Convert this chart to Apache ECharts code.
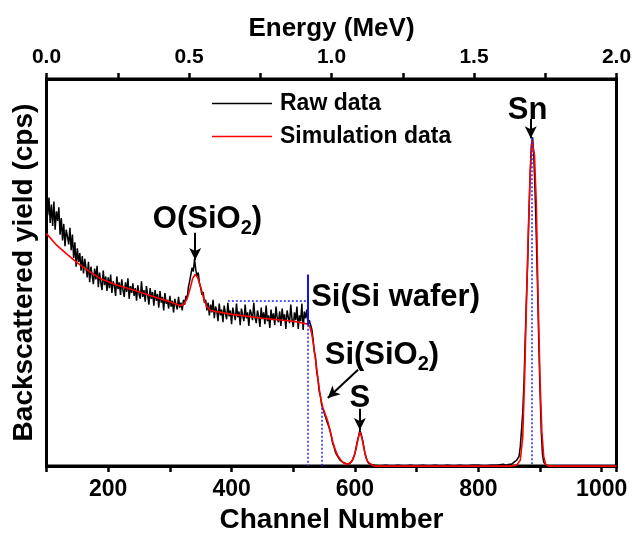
<!DOCTYPE html>
<html>
<head>
<meta charset="utf-8">
<script src="https://cdn.jsdelivr.net/npm/echarts@6/dist/echarts.min.js"></script>
<style>
  html, body { margin: 0; padding: 0; background: #fff; }
  #main { width: 635px; height: 539px; }
</style>
</head>
<body>
<div id="main"></div>
<script>
// raw spectrum, flat part: one value every 2 channels from channel 100
var rawStart = 100;
var rawStep = 2;
var rawFlat = [
  284, 258, 276, 250, 269, 247, 272, 243, 262, 252,
  266, 238, 255, 232, 249, 226, 243, 236, 228, 245,
  222, 238, 214, 230, 205, 224, 210, 219, 201, 216,
  198, 213, 204, 194, 210, 189, 205, 196, 187, 203,
  192, 206, 184, 199, 189, 181, 201, 186, 195, 180,
  194, 183, 197, 178, 190, 186, 175, 195, 182, 189,
  176, 192, 181, 174, 189, 179, 193, 172, 185, 178,
  188, 175, 183, 170, 186, 177, 172, 190, 174, 181,
  169, 185, 176, 166, 183, 172, 179, 165, 181, 170,
  177, 163, 180, 168, 174, 160, 178, 167, 171, 162,
  175, 164, 170, 158, 172, 166, 161, 174, 163, 168,
  160, 171, 166, 175, 172, 184, 190, 197, 204, 200,
  213, 202, 195, 199, 188, 183, 176, 179, 168, 171,
  160, 168, 155, 166, 158, 171, 152, 164, 160, 149,
  167, 155, 161, 148, 165, 157, 151, 168, 154, 160,
  146, 163, 156, 150, 167, 153, 159, 145, 162, 155,
  149, 166, 152, 158, 144, 161, 157, 150, 168, 153,
  147, 160, 154, 143, 163, 151, 158, 146, 165, 149,
  155, 142, 161, 150, 157, 145, 164, 152, 148, 159,
  144, 162, 150, 156, 141, 160, 153, 147, 166, 151,
  143, 158, 150, 164, 141, 155, 149, 167, 140, 159, 152, 161, 145, 150
];
// raw spectrum after the Si edge: [channel, yield]
var rawTail = [
  [528, 150], [530, 141], [532, 131], [534, 118], [536, 112], [538, 97], [540, 90],
  [542, 77], [544, 72], [546, 63], [548, 61], [550, 55], [552, 54], [554, 47],
  [556, 46], [558, 40], [560, 35], [562, 30], [564, 23], [566, 20], [568, 15],
  [570, 12], [573, 9], [576, 6], [580, 4], [584, 3], [588, 2], [592, 3], [596, 6],
  [600, 13], [603, 23], [606, 31], [608, 37], [610, 33], [613, 25], [616, 14],
  [619, 7], [622, 3], [626, 2], [632, 1], [640, 0], [650, 1], [660, 0], [670, 1],
  [680, 0], [690, 1], [700, 0], [710, 1], [720, 0], [730, 1], [740, 0], [750, 1],
  [760, 0], [770, 1], [780, 0], [790, 1], [800, 1], [810, 0], [820, 1], [830, 1],
  [840, 2], [846, 1], [850, 2], [854, 2], [858, 4], [862, 6], [866, 10], [868, 20],
  [870, 37], [872, 55], [874, 85], [876, 130], [878, 172], [880, 210], [882, 258],
  [884, 300], [886, 330], [888, 338], [890, 318], [892, 282], [894, 236], [896, 184],
  [898, 128], [900, 78], [902, 36], [904, 12], [906, 4], [910, 1], [916, 0],
  [940, 0], [980, 0], [1024, 0]
];
// simulated spectrum: [channel, yield]
var simData = [
  [100, 239], [115, 228], [133, 218], [150, 209], [170, 200], [187, 193], [210, 187],
  [241, 181], [270, 175], [295, 170], [316, 165], [322, 166], [328, 172], [333, 183],
  [337, 193], [341, 197], [345, 194], [350, 184], [355, 172], [360, 164], [366, 160],
  [400, 156], [450, 152], [500, 149], [524, 146], [527, 143], [530, 136], [533, 124],
  [536, 110], [539, 95], [542, 80], [545, 68], [548, 60], [552, 53], [556, 46],
  [560, 36], [564, 25], [568, 17], [572, 11], [576, 7], [582, 3], [588, 2], [594, 4],
  [598, 9], [602, 18], [605, 28], [608, 35], [611, 30], [614, 20], [617, 11],
  [620, 5], [625, 2], [632, 0], [850, 0], [862, 1], [868, 6], [872, 30], [875, 90],
  [878, 167], [881, 240], [884, 300], [887, 335], [889, 337], [891, 320], [894, 270],
  [897, 170], [900, 90], [903, 35], [906, 10], [909, 2], [914, 0], [1024, 0]
];
// guide lines [[x1, y1], [x2, y2]]
var solidGuides = [[[524, 197], [524, 145]]];
var dottedGuides = [
  [[394, 170], [524, 170]],
  [[524, 170], [524, 0]],
  [[546, 60], [546, 0]],
  [[887, 337], [887, 0]]
];
// arrows [[from], [to]]
var arrows = [
  [[341, 240], [341, 212]],
  [[605, 99], [556, 70]],
  [[608, 59], [608, 37]],
  [[885, 357], [885, 337]]
];
// labels: text, channel, yield, anchor
var notes = [
  ['{a|O(SiO}{s|2}{a|)}', 361, 254, 'center'],
  ['{a|Si(Si wafer)}', 529, 173, 'left'],
  ['{a|Si(SiO}{s|2}{a|)}', 551, 114, 'left'],
  ['{a|S}', 608, 70, 'center'],
  ['{a|Sn}', 880, 366, 'center']
];

var FONT = 'Arial, "Liberation Sans", sans-serif';

var rawData = [];
for (var i = 0; i < rawFlat.length; i++) {
  rawData.push([rawStart + i * rawStep, rawFlat[i]]);
}
rawData = rawData.concat(rawTail);

function segs(list, style) {
  return list.map(function (s) {
    return [{ coord: s[0], symbol: 'none' }, { coord: s[1], symbol: 'none', lineStyle: style }];
  });
}

var chart = echarts.init(document.getElementById('main'));
var option = {
  animation: false,
  grid: {
    left: 46.5, right: 18.5, top: 79, bottom: 62,
    show: true, borderColor: '#000', borderWidth: 3
  },
  legend: {
    data: ['Raw data', 'Simulation data'],
    orient: 'vertical',
    left: 207, top: 87,
    icon: 'rect', itemWidth: 60, itemHeight: 1.5, itemGap: 10,
    textStyle: { fontFamily: FONT, fontWeight: 'bold', fontSize: 23, color: '#000', padding: [0, 0, 0, 3] }
  },
  xAxis: [{
    type: 'value', min: 100, max: 1024, interval: 100,
    position: 'bottom',
    name: 'Channel Number', nameLocation: 'middle', nameGap: 32,
    nameTextStyle: { fontFamily: FONT, fontWeight: 'bold', fontSize: 28, color: '#000' },
    axisLine: { lineStyle: { color: '#000', width: 3 } },
    axisTick: { show: true, inside: false, length: 6, lineStyle: { color: '#000', width: 2.5 } },
    axisLabel: {
      margin: 12, fontFamily: FONT, fontWeight: 'bold', fontSize: 23, color: '#000',
      formatter: function (v) { return v % 200 === 0 ? String(v) : ''; }
    },
    splitLine: { show: false }
  }, {
    type: 'value', min: 0, max: 2, interval: 0.25,
    position: 'top',
    name: 'Energy (MeV)', nameLocation: 'middle', nameGap: 36,
    nameTextStyle: { fontFamily: FONT, fontWeight: 'bold', fontSize: 26, color: '#000' },
    axisLine: { lineStyle: { color: '#000', width: 3 } },
    axisTick: { show: true, inside: false, length: 6, lineStyle: { color: '#000', width: 2.5 } },
    axisLabel: {
      margin: 11, fontFamily: FONT, fontWeight: 'bold', fontSize: 21, color: '#000',
      formatter: function (v) { return Math.abs(v * 2 - Math.round(v * 2)) < 1e-6 ? v.toFixed(1) : ''; }
    },
    splitLine: { show: false }
  }],
  yAxis: {
    type: 'value', min: 0, max: 398,
    name: 'Backscattered yield (cps)', nameLocation: 'middle', nameGap: 8, nameRotate: 90,
    nameTextStyle: { fontFamily: FONT, fontWeight: 'bold', fontSize: 28, color: '#000' },
    axisLine: { show: true, lineStyle: { color: '#000', width: 3 } },
    axisTick: { show: false },
    axisLabel: { show: false },
    splitLine: { show: false }
  },
  series: [{
    name: 'Raw data', type: 'line', data: rawData,
    showSymbol: false, color: '#000',
    lineStyle: { color: '#000', width: 1.5 },
    markLine: {
      silent: true, animation: false, label: { show: false },
      symbol: ['none', 'arrow'], symbolSize: [9, 12],
      lineStyle: { color: '#000', width: 2, type: 'solid' },
      data: arrows.map(function (a) { return [{ coord: a[0] }, { coord: a[1] }]; })
    }
  }, {
    name: 'Simulation data', type: 'line', data: simData,
    showSymbol: false, color: '#ff0000',
    lineStyle: { color: '#ff0000', width: 1.6 },
    markLine: {
      silent: true, animation: false, label: { show: false },
      symbol: ['none', 'none'],
      lineStyle: { color: '#2222ff', width: 1.5, type: [2, 2] },
      data: segs(dottedGuides, { color: '#2222ff', width: 1.5, type: [2, 2] })
        .concat(segs(solidGuides, { color: '#1010ff', width: 2, type: 'solid' }))
    }
  }]
};
chart.setOption(option);

var textEls = notes.map(function (n) {
  var p = chart.convertToPixel({ xAxisIndex: 0, yAxisIndex: 0 }, [n[1], n[2]]);
  return {
    type: 'text', x: p[0], y: p[1], z: 100,
    style: {
      text: n[0], align: n[3], verticalAlign: 'middle',
      fontFamily: FONT, fontWeight: 'bold', fill: '#000',
      rich: {
        a: { fontSize: 31, fontFamily: FONT, fontWeight: 'bold', fill: '#000' },
        s: { fontSize: 20, fontFamily: FONT, fontWeight: 'bold', fill: '#000', padding: [18, 0, 0, 0] }
      }
    }
  };
});
chart.setOption({ graphic: textEls });
</script>
</body>
</html>
